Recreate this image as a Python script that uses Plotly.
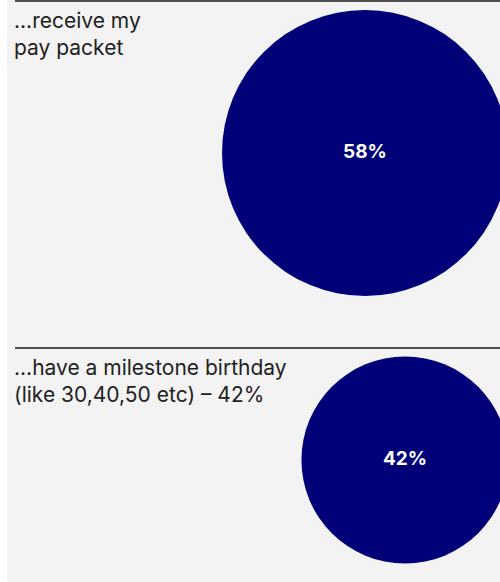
import plotly.graph_objects as go

# Data
labels = ["...receive my<br>pay packet", "...have a milestone birthday<br>(like 30,40,50 etc) \u2013 42%"]
values = [58, 42]
value_text = ["58%", "42%"]

W, H = 500, 582
navy = "#000078"
bg = "#f3f3f3"

# layout positions (pixels)
panel_tops = [1, 348]
centers_x = [365, 405]
centers_y = [153, 460]
px_per_unit = 143 / 58.0  # radius per percent

fig = go.Figure()
fig.add_trace(go.Scatter(
    x=centers_x, y=centers_y,
    mode="markers+text",
    marker=dict(size=[2 * v * px_per_unit for v in values], color=navy,
                line=dict(width=0), opacity=1, sizemode="diameter"),
    text=value_text,
    textposition="middle center",
    textfont=dict(family="Inter", size=19, color="white", weight="bold"),
    hoverinfo="skip", cliponaxis=False,
))

shapes = []
annotations = []
for top, lab in zip(panel_tops, labels):
    shapes.append(dict(type="line", xref="x", yref="y", x0=15, x1=500, y0=top, y1=top,
                       line=dict(color="#1a1a1a", width=1.5)))
    annotations.append(dict(xref="x", yref="y", x=12, y=top + 5, text=lab, showarrow=False,
                            xanchor="left", yanchor="top", align="left",
                            font=dict(family="Inter", size=21, color="#222222")))

fig.update_layout(
    width=W, height=H,
    margin=dict(l=7, r=0, t=0, b=0),
    paper_bgcolor="white", plot_bgcolor=bg,
    showlegend=False,
    xaxis=dict(range=[7, 500], visible=False, fixedrange=True),
    yaxis=dict(range=[582, 0], visible=False, fixedrange=True),
    shapes=shapes, annotations=annotations,
)
fig.write_html("out.html", config={"displayModeBar": False, "staticPlot": True},
               post_script="document.body.style.margin='0';document.body.style.overflow='hidden';")
